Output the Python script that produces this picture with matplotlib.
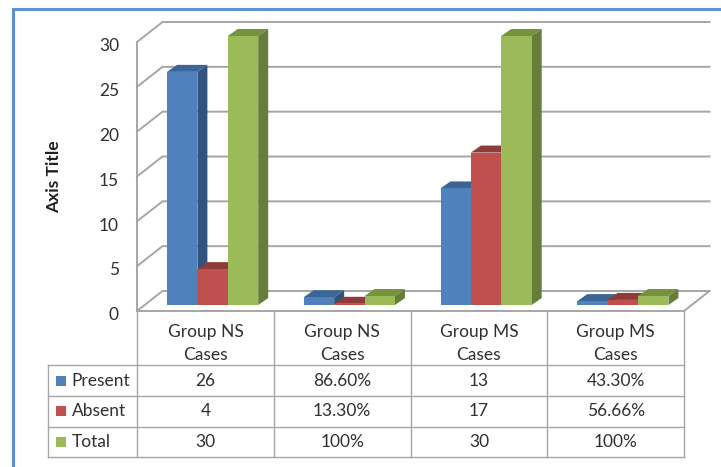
import matplotlib
matplotlib.use("Agg")
import matplotlib.pyplot as plt
from matplotlib.patches import Polygon, Rectangle
from matplotlib.transforms import ScaledTranslation

plt.rcParams['font.family'] = ['Lato', 'DejaVu Sans']

categories = ["Group NS\nCases", "Group NS\nCases", "Group MS\nCases", "Group MS\nCases"]
series_names = ["Present", "Absent", "Total"]
present = [26, 0.866, 13, 0.433]
absent = [4, 0.133, 17, 0.5666]
total = [30, 1, 30, 1]
present_labels = ["26", "86.60%", "13", "43.30%"]
absent_labels = ["4", "13.30%", "17", "56.66%"]
total_labels = ["30", "100%", "30", "100%"]
y_ticks = [0, 5, 10, 15, 20, 25, 30]

W, H = 721, 467
FRONT = "#4f81bd", "#c0504d", "#9bbb59"
TOPS = "#3a6595", "#8f3b39", "#76923c"
SIDES = "#31547e", "#7f3331", "#677d3a"
GRID = "#a6a6a6"
TEXT = "#303030"
FS = 12.5

# pixel positions of the chart front plane and the table
LEFT, RIGHT, FLOOR, TOP = 137, 684, 311, 42
PX_X = (RIGHT - LEFT) / 4.0
PX_Y = (FLOOR - TOP) / 30.0

fig = plt.figure(figsize=(W / 100, H / 100), dpi=100, facecolor="white")

# overlay in pixel coords, for frame and table
over = fig.add_axes([0, 0, 1, 1])
over.set_xlim(0, W)
over.set_ylim(H, 0)
over.axis("off")

ax = fig.add_axes([LEFT / W, (H - FLOOR) / H, (RIGHT - LEFT) / W, (FLOOR - TOP) / H])
ax.set_xlim(0, 4)
ax.set_ylim(0, 30)
ax.patch.set_alpha(0)
for s in ax.spines.values():
    s.set_visible(False)
ax.set_xticks([])
ax.set_yticks(y_ticks)
ax.tick_params(axis="y", length=0, pad=13, labelsize=12.5, labelcolor=TEXT)
# labels sit a little low in the original
for lab in ax.get_yticklabels():
    lab.set_transform(lab.get_transform() + ScaledTranslation(0, -2 / 72, fig.dpi_scale_trans))
ax.set_ylabel("Axis Title", fontsize=12.5, fontweight="bold", color="#202020", va="center")
ax.yaxis.set_label_coords((54 - LEFT) / (RIGHT - LEFT), 0.498)

# walls
wall_dx, wall_dy = 25.5 / PX_X, 20 / PX_Y
for v in y_ticks:
    ax.plot([0, wall_dx, 4 + wall_dx], [v, v + wall_dy, v + wall_dy],
            color=GRID, lw=1.4, clip_on=False, zorder=1, solid_joinstyle="miter")
ax.plot([0, 0], [0, 30], color=GRID, lw=1.4, clip_on=False, zorder=1)
ax.plot([0, 4, 4 + wall_dx], [0, 0, wall_dy], color=GRID, lw=1.4, clip_on=False, zorder=1)

# bars
bar_w = 30.4 / PX_X
bar_start = 30 / PX_X
depth_x, depth_y = 10 / PX_X, 7 / PX_Y
base = 6 / PX_Y

for i in range(4):
    x0 = i + bar_start
    for j, vals in enumerate([present, absent, total]):
        x = x0 + j * bar_w
        v = vals[i]
        z = 3 + i * 3 + j
        ax.bar(x, v, width=bar_w, bottom=base, align="edge", color=FRONT[j],
               linewidth=0, zorder=z + 0.5, clip_on=False)
        top_y = base + v
        ax.add_patch(Polygon([(x, top_y), (x + depth_x, top_y + depth_y),
                              (x + bar_w + depth_x, top_y + depth_y), (x + bar_w, top_y)],
                             closed=True, fc=TOPS[j], lw=0, zorder=z, clip_on=False))
        ax.add_patch(Polygon([(x + bar_w, base), (x + bar_w + depth_x, base + depth_y),
                              (x + bar_w + depth_x, top_y + depth_y), (x + bar_w, top_y)],
                             closed=True, fc=SIDES[j], lw=0, zorder=z, clip_on=False))

# outer frame, runs off the right and bottom of the picture
over.plot([12.5, 12.5, W], [H, 8.5, 8.5], color="#5b90d6", lw=2.2, solid_joinstyle="miter")

# data table
col_x = [137, 273.75, 410.5, 547.25, 684]
row_y = [311, 365, 396, 426.5, 457]
tbl = dict(color="#a6a6a6", lw=1.0)
for x in col_x:
    over.plot([x, x], [row_y[0], row_y[-1]], **tbl)
over.plot([48, 48], [row_y[1], row_y[-1]], **tbl)
for y in row_y[1:]:
    over.plot([48, col_x[-1]], [y, y], **tbl)

for i, cat in enumerate(categories):
    cx = (col_x[i] + col_x[i + 1]) / 2
    l1, l2 = cat.split("\n")
    over.text(cx, 332.5, l1, ha="center", va="center", fontsize=FS, color=TEXT)
    over.text(cx, 355, l2, ha="center", va="center", fontsize=FS, color=TEXT)

for r, (name, labels) in enumerate(zip(series_names, [present_labels, absent_labels, total_labels])):
    cy = (row_y[r + 1] + row_y[r + 2]) / 2
    over.add_patch(Rectangle((56, cy - 5), 10, 10, fc=FRONT[r], lw=0))
    over.text(71.5, cy, name, ha="left", va="center", fontsize=FS, color=TEXT)
    for i, lab in enumerate(labels):
        cx = (col_x[i] + col_x[i + 1]) / 2
        over.text(cx, cy, lab, ha="center", va="center", fontsize=FS, color=TEXT)

fig.savefig("out.png", dpi=100)
